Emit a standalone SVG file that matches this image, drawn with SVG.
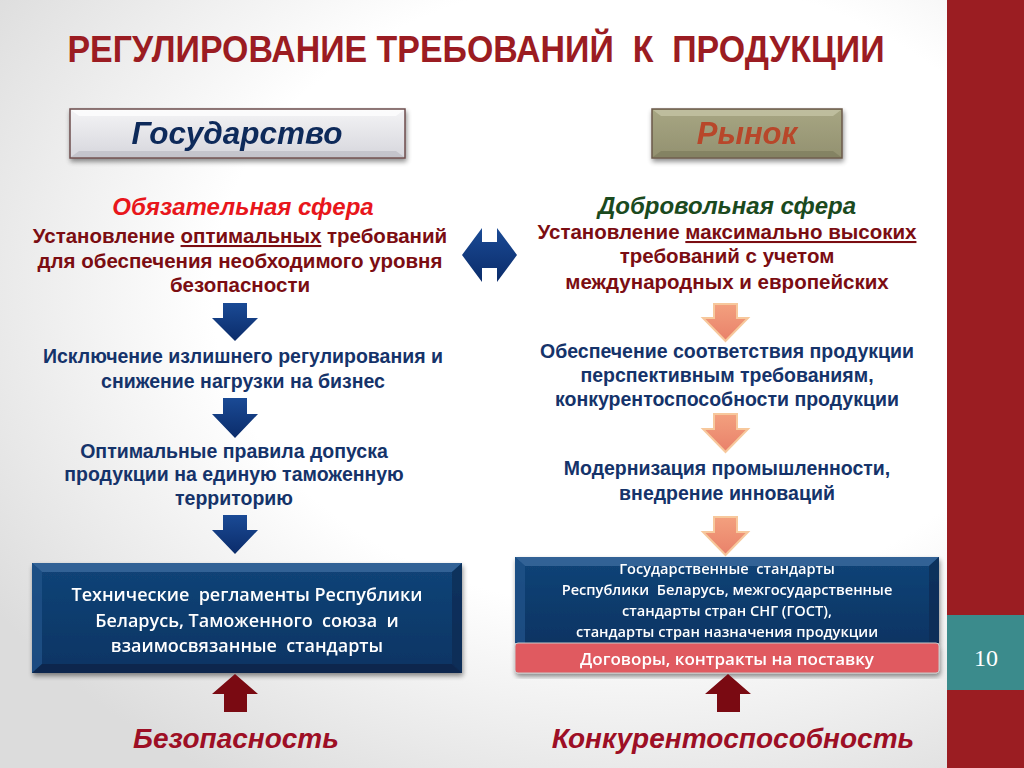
<svg xmlns="http://www.w3.org/2000/svg" width="1024" height="768" viewBox="0 0 1024 768">
<defs>
  <radialGradient id="bg" cx="0.62" cy="0.38" r="0.75">
    <stop offset="0.55" stop-color="#ffffff"/>
    <stop offset="1" stop-color="#dcdcdc"/>
  </radialGradient>
  <linearGradient id="grayBtn" x1="0" y1="0" x2="0" y2="1">
    <stop offset="0" stop-color="#f4f4f6"/>
    <stop offset="1" stop-color="#d6d6dc"/>
  </linearGradient>
  <linearGradient id="oliveBtn" x1="0" y1="0" x2="0" y2="1">
    <stop offset="0" stop-color="#a7a683"/>
    <stop offset="1" stop-color="#939170"/>
  </linearGradient>
  <linearGradient id="navyArrow" x1="0" y1="0" x2="0" y2="1">
    <stop offset="0" stop-color="#1a4a95"/>
    <stop offset="1" stop-color="#0b2c6a"/>
  </linearGradient>
  <linearGradient id="peach" x1="0" y1="0" x2="0" y2="1">
    <stop offset="0" stop-color="#f3a07e"/>
    <stop offset="1" stop-color="#e9816a"/>
  </linearGradient>
  <linearGradient id="blueBox" x1="0" y1="0" x2="0" y2="1">
    <stop offset="0" stop-color="#124478"/>
    <stop offset="1" stop-color="#0c3463"/>
  </linearGradient>
  <filter id="shadow" x="-5%" y="-10%" width="110%" height="130%">
    <feGaussianBlur in="SourceAlpha" stdDeviation="2.5"/>
    <feOffset dx="1" dy="3"/>
    <feComponentTransfer><feFuncA type="linear" slope="0.45"/></feComponentTransfer>
    <feMerge><feMergeNode/><feMergeNode in="SourceGraphic"/></feMerge>
  </filter>
  <style>
    text{white-space:pre}
    .title{font-family:"Liberation Sans",Arial,sans-serif;font-weight:bold;fill:#9b1c22}
    .hdr{font-family:"Liberation Sans",Arial,sans-serif;font-weight:bold;font-style:italic;text-anchor:middle}
    .dr{font-family:"Liberation Sans",Arial,sans-serif;font-weight:bold;font-size:20.5px;fill:#7b0d12;text-anchor:middle}
    .nv{font-family:"Liberation Sans",Arial,sans-serif;font-weight:bold;font-size:19.5px;fill:#15336a;text-anchor:middle}
    .wt{font-family:"Open Sans","Noto Sans",sans-serif;font-weight:600;fill:#ffffff;text-anchor:middle}
    .bot{font-family:"Liberation Sans",Arial,sans-serif;font-weight:bold;font-style:italic;font-size:28px;fill:#9d0f25;text-anchor:middle}
    .navyArr{fill:url(#navyArrow)}
    .peachArr{fill:url(#peach);stroke:#f7c89c;stroke-width:2}
    .upArr{fill:#7a0a12}
  </style>
</defs>

<rect x="0" y="0" width="1024" height="768" fill="url(#bg)"/>

<!-- right side bar -->
<g id="sidebar">
  <rect x="947" y="0" width="77" height="768" fill="#9b1d22"/>
  <rect x="947" y="615" width="77" height="75" fill="#3b8b8c"/>
  <text x="986" y="666" font-family="Liberation Serif,'DejaVu Serif',serif" font-size="24" fill="#ffffff" text-anchor="middle">10</text>
</g>

<!-- title -->
<g id="title">
  <text class="title" x="476" y="62" font-size="37" text-anchor="middle" textLength="817" lengthAdjust="spacingAndGlyphs">РЕГУЛИРОВАНИЕ ТРЕБОВАНИЙ  К  ПРОДУКЦИИ</text>
</g>

<!-- header buttons -->
<g id="node-state" filter="url(#shadow)">
  <rect x="70" y="109" width="335" height="49" fill="url(#grayBtn)" stroke="#6e4d4d" stroke-width="1.5"/>
  <polygon points="71,110 404,110 396,116 79,116" fill="#ffffff" opacity="0.7"/>
  <polygon points="71,157 404,157 396,151 79,151" fill="#b8b8c0" opacity="0.6"/>
  <text class="hdr" x="237" y="144" font-size="31.5" fill="#10295a">Государство</text>
</g>
<g id="node-market" filter="url(#shadow)">
  <rect x="652" y="109" width="190" height="49" fill="url(#oliveBtn)" stroke="#6b5a4a" stroke-width="1.5"/>
  <polygon points="653,110 841,110 833,116 661,116" fill="#c9c8aa" opacity="0.7"/>
  <polygon points="653,157 841,157 833,151 661,151" fill="#7a785a" opacity="0.6"/>
  <text class="hdr" x="747" y="144" font-size="31" fill="#b8462a">Рынок</text>
</g>

<!-- left column -->
<g id="node-mandatory">
  <text class="hdr" x="243" y="215" font-size="24" fill="#e8161b">Обязательная сфера</text>
  <text class="dr" x="240" y="243">Установление <tspan text-decoration="underline">оптимальных</tspan> требований</text>
  <text class="dr" x="240" y="268">для обеспечения необходимого уровня</text>
  <text class="dr" x="240" y="292">безопасности</text>
</g>
<g id="node-exclusion">
  <text class="nv" x="243" y="363">Исключение излишнего регулирования и</text>
  <text class="nv" x="243" y="388">снижение нагрузки на бизнес</text>
</g>
<g id="node-rules">
  <text class="nv" x="234" y="458">Оптимальные правила допуска</text>
  <text class="nv" x="234" y="481">продукции на единую таможенную</text>
  <text class="nv" x="234" y="505">территорию</text>
</g>
<g id="node-techreg" filter="url(#shadow)">
  <rect x="32" y="563" width="430" height="110" fill="url(#blueBox)"/>
  <polygon points="32,563 462,563 452,572 42,572" fill="#3a6a9e" opacity="0.8"/>
  <polygon points="32,563 42,572 42,664 32,673" fill="#1f5288" opacity="0.8"/>
  <polygon points="462,563 452,572 452,664 462,673" fill="#0a2c55" opacity="0.8"/>
  <polygon points="32,673 462,673 452,664 42,664" fill="#082649" opacity="0.8"/>
  <text class="wt" x="247" y="601" font-size="18">Технические  регламенты Республики</text>
  <text class="wt" x="247" y="627" font-size="18">Беларусь, Таможенного  союза  и</text>
  <text class="wt" x="247" y="652" font-size="18">взаимосвязанные  стандарты</text>
</g>
<g id="node-safety">
  <text class="bot" x="236" y="748">Безопасность</text>
</g>

<!-- right column -->
<g id="node-voluntary">
  <text class="hdr" x="727" y="214" font-size="24" fill="#1b4a1e">Добровольная сфера</text>
  <text class="dr" x="727" y="239">Установление <tspan text-decoration="underline">максимально высоких</tspan></text>
  <text class="dr" x="727" y="263">требований с учетом</text>
  <text class="dr" x="727" y="289">международных и европейских</text>
</g>
<g id="node-conformity">
  <text class="nv" x="727" y="358">Обеспечение соответствия продукции</text>
  <text class="nv" x="727" y="382">перспективным требованиям,</text>
  <text class="nv" x="727" y="406">конкурентоспособности продукции</text>
</g>
<g id="node-modern">
  <text class="nv" x="727" y="475">Модернизация промышленности,</text>
  <text class="nv" x="727" y="500">внедрение инноваций</text>
</g>
<g id="node-standards" filter="url(#shadow)">
  <rect x="515" y="557" width="424" height="86" fill="url(#blueBox)"/>
  <polygon points="515,557 939,557 929,566 525,566" fill="#3a6a9e" opacity="0.8"/>
  <polygon points="515,557 525,566 525,643 515,643" fill="#1f5288" opacity="0.8"/>
  <polygon points="939,557 929,566 929,643 939,643" fill="#0a2c55" opacity="0.8"/>
  <text class="wt" x="727" y="574" font-size="14.6">Государственные  стандарты</text>
  <text class="wt" x="727" y="595" font-size="14.6">Республики  Беларусь, межгосударственные</text>
  <text class="wt" x="727" y="616" font-size="14.6">стандарты стран СНГ (ГОСТ),</text>
  <text class="wt" x="727" y="637" font-size="14.6">стандарты стран назначения продукции</text>
</g>
<g id="node-contracts" filter="url(#shadow)">
  <rect x="515" y="643" width="424" height="30" rx="3" fill="#e05a61" stroke="#c9c9c9" stroke-width="1"/>
  <text class="wt" x="727" y="665" font-size="17">Договоры, контракты на поставку</text>
</g>
<g id="node-competitiveness">
  <text class="bot" x="733" y="748">Конкурентоспособность</text>
</g>

<!-- connectors -->
<g id="connectors">
  <polygon class="navyArr" points="462,255 482,228 482,242 497,242 497,228 517,255 497,282 497,268 482,268 482,282"/>
  <polygon class="navyArr" points="223,303 247,303 247,318 258,318 235,341 212,318 223,318"/>
  <polygon class="navyArr" points="223,398 247,398 247,414 258,414 235,438 212,414 223,414"/>
  <polygon class="navyArr" points="223,515 247,515 247,530 258,530 235,554 212,530 223,530"/>
  <polygon class="peachArr" points="714,304 737,304 737,318 748,318 725.5,341 703,318 714,318"/>
  <polygon class="peachArr" points="714,414 737,414 737,429 748,429 725.5,452 703,429 714,429"/>
  <polygon class="peachArr" points="714,517 737,517 737,532 748,532 725.5,555 703,532 714,532"/>
  <polygon class="upArr" points="235,674 258,694 247,694 247,712 224,712 224,694 212,694"/>
  <polygon class="upArr" points="728,674 751,694 740,694 740,712 717,712 717,694 705,694"/>
</g>
</svg>
